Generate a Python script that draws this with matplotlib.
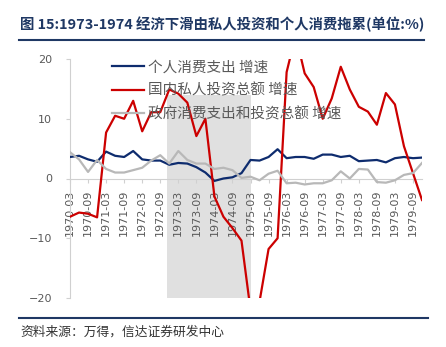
import matplotlib
matplotlib.use("Agg")
import matplotlib.pyplot as plt
from matplotlib.lines import Line2D

plt.rcParams['font.family'] = ['Noto Sans CJK SC', 'DejaVu Sans']

# ---- data ----
years = list(range(1970, 1980))
months = ["03", "06", "09", "12"]
quarters = [f"{y}-{m}" for y in years for m in months]

consumption = [3.6, 3.8, 3.2, 2.8, 4.5, 3.8, 3.6, 4.6, 3.2, 3.0,
               3.0, 2.3, 2.6, 2.5, 1.9, 1.0, -0.4, 0.0, 0.2, 0.9,
               3.1, 3.0, 3.6, 4.9, 3.4, 3.6, 3.6, 3.3, 4.0, 4.0,
               3.6, 3.8, 2.9, 3.0, 3.1, 2.7, 3.4, 3.6, 3.4, 3.5]
private_inv = [-6.4, -5.7, -5.9, -6.5, 7.7, 10.5, 10.0, 13.0, 7.9, 11.1,
               11.1, 14.9, 14.2, 12.7, 7.1, 10.0, -3.0, -6.4, -8.3, -10.4,
               -22.0, -20.6, -11.8, -10.0, 17.8, 24.0, 17.6, 15.3, 10.0, 13.4,
               18.7, 14.9, 12.0, 11.2, 9.0, 14.3, 12.4, 5.4, 0.9, -3.6]
government = [4.4, 3.2, 1.1, 3.1, 1.6, 1.0, 1.0, 1.4, 1.8, 3.0,
              3.9, 2.5, 4.6, 3.1, 2.5, 2.5, 1.6, 1.8, 1.4, 0.1,
              0.3, -0.3, 0.8, 1.3, -0.8, -0.7, -1.0, -0.8, -0.8, -0.3,
              1.2, 0.0, 1.6, 1.5, -0.6, -0.7, -0.3, 0.6, 0.9, 2.6]

series_names = ["个人消费支出 增速", "国内私人投资总额 增速", "政府消费支出和投资总额 增速"]
tick_labels = quarters[::2]

# shaded recession period (quarter labels) and its height
shade_start = "1972-12"
shade_end = "1975-03"
shade_bottom, shade_top = -20, 14

title = "图 15:1973-1974 经济下滑由私人投资和个人消费拖累(单位:%)"
source = "资料来源：万得，信达证券研发中心"

# ---- figure ----
W, H = 446, 347
fig = plt.figure(figsize=(W / 100, H / 100), dpi=100)
ax = fig.add_axes([70 / W, 1 - 298 / H, 352 / W, 239 / H])

x = list(range(len(quarters)))
xs = quarters.index(shade_start) - 0.25
xe = quarters.index(shade_end)
ax.fill_between([xs, xe], shade_bottom, shade_top, color="#E0E0E0", lw=0, zorder=0)

colors = ["#0E2C6E", "#CC0000", "#B8B8B8"]
for vals, name, c in zip([consumption, private_inv, government], series_names, colors):
    ax.plot(x, vals, color=c, lw=1.6, label=name, zorder=3)

ax.set_xlim(0, len(quarters) - 1)
ax.set_ylim(-20, 20)
ax.set_yticks([-20, -10, 0, 10, 20])
ax.set_yticklabels(["\u221220", "\u221210", "0", "10", "20"])
ax.set_xticks(x[::2])
ax.set_xticklabels(tick_labels)

for s in ["top", "right"]:
    ax.spines[s].set_visible(False)
ax.spines["left"].set_color("#D0D0D0")
ax.spines["bottom"].set_color("#D0D0D0")
ax.spines["bottom"].set_position(("data", 0))
ax.tick_params(axis="y", length=3, color="#D0D0D0", pad=10, labelsize=8, labelcolor="#595959")
ax.tick_params(axis="x", length=3, color="#D0D0D0", pad=5, labelsize=8, labelcolor="#595959",
               labelrotation=90)
for lab in ax.get_xticklabels() + ax.get_yticklabels():
    lab.set_family("DejaVu Sans")

leg = ax.legend(loc="upper left", bbox_to_anchor=((112 - 70) / 352, 0.995),
                frameon=False, fontsize=10.5, handlelength=2.2, handletextpad=0.3,
                labelspacing=0.62, borderpad=0, borderaxespad=0, labelcolor="#595959")

# title & footer
fig.text(20 / W, 1 - 24 / H, title, fontsize=10.4, fontweight="bold", color="#1F3864",
         va="center", ha="left")
fig.add_artist(Line2D([19 / W, 424 / W], [1 - 40 / H] * 2, color="#1F3864", lw=1.5))
fig.add_artist(Line2D([19 / W, 428 / W], [1 - 318 / H] * 2, color="#1F3864", lw=1.5))
fig.text(20 / W, 1 - 332 / H, source, fontsize=9.2, color="#333333", style="italic",
         va="center", ha="left")

fig.savefig("out.png", dpi=100)
